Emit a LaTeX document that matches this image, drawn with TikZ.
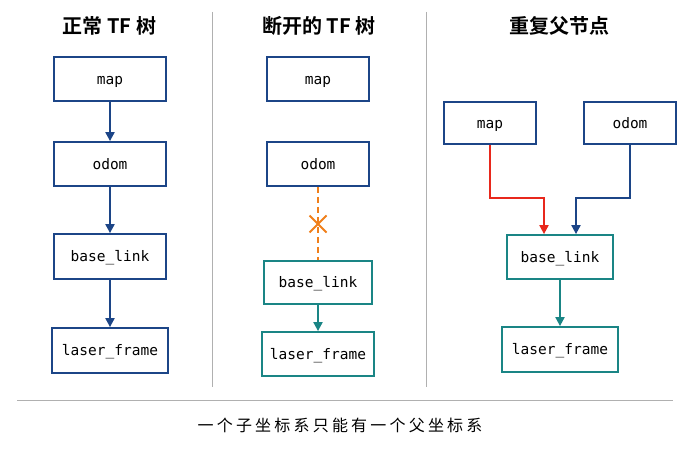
\documentclass[tikz,border=0pt]{standalone}
\usepackage{fontspec}
\setmonofont{DejaVu Sans Mono}
\newfontfamily\cjk[BoldFont={Noto Sans CJK SC Bold}]{Noto Sans CJK SC}
\newfontfamily\cjkspaced[LetterSpace=20]{Noto Sans CJK SC}
\usetikzlibrary{arrows.meta}
\definecolor{tfblue}{HTML}{1C4587}
\definecolor{tfteal}{HTML}{1A8585}
\definecolor{tfred}{HTML}{E8281C}
\definecolor{tforange}{HTML}{F07F1A}
\definecolor{sepgray}{HTML}{B0B0B0}
\tikzset{
  box/.style={draw, line width=1.8pt, fill=white, inner sep=0pt,
    text height=13pt, text depth=3pt,
    font=\ttfamily\fontsize{14.5}{16}\selectfont},
  bluebox/.style={box, draw=tfblue},
  tealbox/.style={box, draw=tfteal},
  conn/.style={line width=2pt, -{Triangle[length=9pt,width=9pt]}},
  sep/.style={draw=sepgray, line width=1pt},
  title/.style={font=\cjk\bfseries\fontsize{20}{22}\selectfont},
}
\begin{document}
\begin{tikzpicture}[x=1pt,y=-1pt]
\useasboundingbox[fill=white] (0,0) rectangle (690,460);
% separators
\draw[sep] (212,12) coordinate (s1a) -- (212,387) coordinate (s1b);
\draw[sep] (426,12) coordinate (s2a) -- (426,387) coordinate (s2b);
\draw[sep] (17,400) coordinate (h1) -- (673,400) coordinate (h2);
% titles
\node[title] (t1) at (109.5,26) {正常 TF 树};
\node[title] (t2) at (319,26) {断开的 TF 树};
\node[title] (t3) at (559,26) {重复父节点};
% column 1
\node[bluebox, minimum width=112pt, minimum height=44pt] (m1) at (110,79) {map};
\node[bluebox, minimum width=112pt, minimum height=44pt] (o1) at (110,164) {odom};
\node[bluebox, minimum width=112pt, minimum height=45pt] (b1) at (110,256.5) {base\_link};
\node[bluebox, minimum width=116pt, minimum height=45pt] (l1) at (110,350.5) {laser\_frame};
\draw[conn, tfblue] (m1) -- (o1);
\draw[conn, tfblue] (o1) -- (b1);
\draw[conn, tfblue] (b1) -- (l1);
% column 2
\node[bluebox, minimum width=102pt, minimum height=44pt] (m2) at (318,79) {map};
\node[bluebox, minimum width=102pt, minimum height=44pt] (o2) at (318,164) {odom};
\node[tealbox, minimum width=108pt, minimum height=43pt] (b2) at (318,282.5) {base\_link};
\node[tealbox, minimum width=112pt, minimum height=44pt] (l2) at (318,354) {laser\_frame};
\coordinate (x2) at (318,224);
\draw[tforange, line width=1.8pt, dash pattern=on 6pt off 4pt] (o2.south) -- (b2.north);
\draw[tforange, line width=2pt] ([shift={(-8.5,-8.5)}]x2) -- ([shift={(8.5,8.5)}]x2)
  ([shift={(-8.5,8.5)}]x2) -- ([shift={(8.5,-8.5)}]x2);
\draw[conn, tfteal] (b2) -- (l2);
% column 3
\node[bluebox, minimum width=92pt, minimum height=42pt] (m3) at (490,123) {map};
\node[bluebox, minimum width=92pt, minimum height=42pt] (o3) at (630,123) {odom};
\node[tealbox, minimum width=106pt, minimum height=44pt] (b3) at (560,257) {base\_link};
\node[tealbox, minimum width=116pt, minimum height=45pt] (l3) at (560,349.5) {laser\_frame};
\draw[conn, tfred] (m3.south) -- ++(0,53) -| ([xshift=-16pt]b3.north);
\draw[conn, tfblue] (o3.south) -- ++(0,53) -| ([xshift=16pt]b3.north);
\draw[conn, tfteal] (b3) -- (l3);
% caption
\node[font=\cjkspaced\fontsize{16}{18}\selectfont] (cap) at (340,425) {一个子坐标系只能有一个父坐标系};
\end{tikzpicture}
\end{document}
